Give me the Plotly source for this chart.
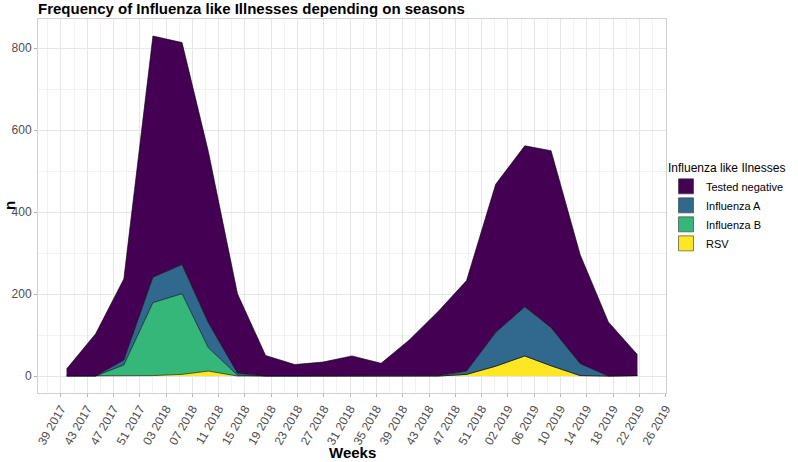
import plotly.graph_objects as go
import pandas as pd

# ---- data ----
months = ["2017-10-01", "2017-11-01", "2017-12-01", "2018-01-01", "2018-02-01", "2018-03-01",
          "2018-04-01", "2018-05-01", "2018-06-01", "2018-07-01", "2018-08-01", "2018-09-01",
          "2018-10-01", "2018-11-01", "2018-12-01", "2019-01-01", "2019-02-01", "2019-03-01",
          "2019-04-01", "2019-05-01", "2019-06-01"]
rsv       = [0, 0, 0, 1, 4, 12, 0, 0, 0, 0, 0, 0, 0, 0, 4, 24, 49, 25, 1, 0, 1]
influenza_b = [0, 0, 27, 178, 197, 57, 2, 0, 0, 0, 0, 0, 0, 0, 0, 0, 0, 0, 0, 0, 0]
influenza_a = [0, 0, 12, 62, 71, 61, 5, 0, 0, 0, 0, 0, 0, 1, 8, 82, 120, 93, 29, 0, 0]
tested_negative = [17, 103, 198, 589, 542, 418, 194, 50, 28, 34, 49, 31, 88, 157, 221, 362,
                   393, 432, 266, 132, 51]

tick_labels = ["39 2017", "43 2017", "47 2017", "51 2017", "03 2018", "07 2018", "11 2018",
               "15 2018", "19 2018", "23 2018", "27 2018", "31 2018", "35 2018", "39 2018",
               "43 2018", "47 2018", "51 2018", "02 2019", "06 2019", "10 2019", "14 2019",
               "18 2019", "22 2019", "26 2019"]
first_tick = "2017-09-25"

series = [("RSV", rsv, "#FDE725"),
          ("Influenza B", influenza_b, "#35B779"),
          ("Influenza A", influenza_a, "#31688E"),
          ("Tested negative", tested_negative, "#440154")]

# ---- scales ----
tick_dates = pd.date_range(first_tick, periods=len(tick_labels), freq="28D")
minor_dates = pd.date_range(pd.Timestamp(first_tick) - pd.Timedelta(days=14),
                            periods=len(tick_labels), freq="28D")
dates = pd.to_datetime(months)
span = dates.max() - dates.min()
x_range = [dates.min() - span * 0.05, dates.max() + span * 0.05]
totals = [sum(v) for v in zip(*[s[1] for s in series])]
ymax = max(totals)
y_range = [-0.05 * ymax, ymax * 1.05]

fig = go.Figure()
for name, vals, col in series:
    fig.add_trace(go.Scatter(
        x=dates, y=vals, name=name, mode="lines", stackgroup="one",
        line=dict(color="black", width=0.6), fillcolor=col, showlegend=False,
    ))
# legend keys (filled squares with thin outline)
for name, vals, col in series:
    fig.add_trace(go.Scatter(
        x=[None], y=[None], name=name, mode="markers",
        marker=dict(symbol="square", size=15, color=col, line=dict(color="#333333", width=0.6)),
    ))

font_family = "Liberation Sans, Arial, sans-serif"
fig.update_layout(
    width=798, height=462,
    margin=dict(l=38, r=132, t=19, b=69, autoexpand=False),
    paper_bgcolor="white", plot_bgcolor="white",
    font=dict(family=font_family, color="#4D4D4D", size=12),
    title=dict(text="<b>Frequency of Influenza like Illnesses depending on seasons</b>",
               x=38 / 798, xanchor="left", xref="container", y=1 - 9 / 462, yanchor="middle",
               font=dict(size=15, color="black")),
    legend=dict(title=dict(text="Influenza like Ilnesses", font=dict(size=12, color="black")),
                traceorder="reversed", x=1.0, xanchor="left", y=0.633, yanchor="top",
                font=dict(size=11, color="black"),
                tracegroupgap=0, bgcolor="rgba(0,0,0,0)"),
    showlegend=True,
    annotations=[
        dict(text="<b>Weeks</b>", xref="paper", yref="paper", x=0.5, y=-0.158,
             yanchor="middle", xanchor="center", showarrow=False,
             font=dict(size=15, color="black")),
        dict(text="<b>n</b>", xref="paper", yref="paper", x=-0.046, y=0.5,
             xanchor="center", yanchor="middle", textangle=-90, showarrow=False,
             font=dict(size=15, color="black")),
    ],
)
fig.update_xaxes(
    type="date", range=x_range, automargin=False,
    tickmode="array", tickvals=tick_dates, ticktext=tick_labels, tickangle=-60,
    ticks="outside", ticklen=3, tickcolor="#B3B3B3",
    tickfont=dict(size=12, color="#4D4D4D"),
    showgrid=True, gridcolor="#E6E6E6", gridwidth=1,
    minor=dict(tickmode="array", tickvals=minor_dates, showgrid=True,
               gridcolor="#F2F2F2", gridwidth=0.6, ticks=""),
    showline=True, linecolor="#D0D0D0", linewidth=1, mirror=True,
    zeroline=False,
)
fig.update_yaxes(
    range=y_range, automargin=False, tickmode="array", tickvals=[0, 200, 400, 600, 800],
    ticks="outside", ticklen=3, tickcolor="#B3B3B3",
    tickfont=dict(size=12, color="#4D4D4D"),
    showgrid=True, gridcolor="#E6E6E6", gridwidth=1,
    minor=dict(tickmode="array", tickvals=[100, 300, 500, 700], showgrid=True,
               gridcolor="#F2F2F2", gridwidth=0.6, ticks=""),
    showline=True, linecolor="#D0D0D0", linewidth=1, mirror=True,
    zeroline=False,
)

fig.write_html("out.html", config={"displayModeBar": False},
               post_script="document.body.style.margin='0';")
